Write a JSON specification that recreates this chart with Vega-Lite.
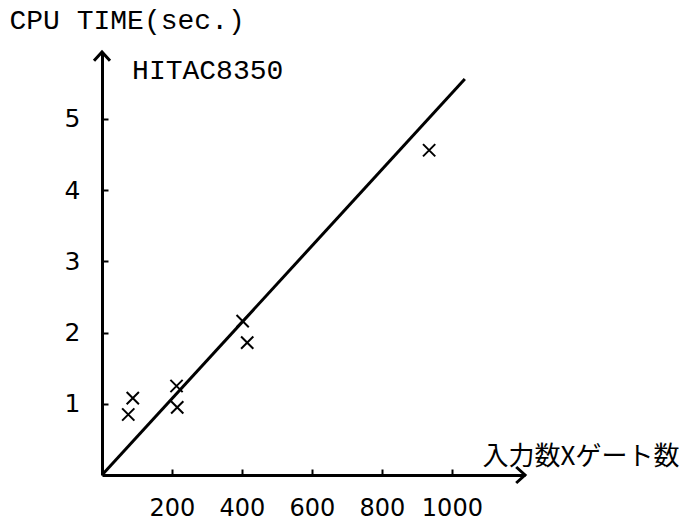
{
  "$schema": "https://vega.github.io/schema/vega-lite/v6.json",
  "width": 423,
  "height": 423,
  "autosize": "none",
  "padding": {"left": 102, "top": 52, "right": 158, "bottom": 48},
  "background": "white",
  "config": {"view": {"stroke": null}},
  "datasets": {
    "measurements": [
      {"x": 75, "y": 0.85},
      {"x": 88, "y": 1.08},
      {"x": 213, "y": 1.25},
      {"x": 215, "y": 0.95},
      {"x": 402, "y": 2.16},
      {"x": 415, "y": 1.86},
      {"x": 935, "y": 4.56}
    ],
    "fit": [
      {"x": 0, "y": 0},
      {"x": 1037, "y": 5.56}
    ],
    "arrows": [
      {"x": 0, "y": 5.94, "dir": "up"},
      {"x": 1209, "y": 0, "dir": "right"}
    ],
    "label": [
      {"x": 86, "y": 5.56, "text": "HITAC8350"}
    ]
  },
  "encoding": {
    "x": {
      "field": "x",
      "type": "quantitative",
      "scale": {"domain": [0, 1209], "nice": false, "zero": false},
      "axis": {
        "values": [200, 400, 600, 800, 1000],
        "format": "d",
        "grid": false,
        "domainColor": "black",
        "domainWidth": 3,
        "tickColor": "black",
        "tickWidth": 2,
        "tickSize": -6,
        "labelFont": "DejaVu Sans",
        "labelFontSize": 24,
        "labelColor": "black",
        "labelPadding": 27,
        "labelDx": -6,
        "labelOverlap": false,
        "labelFlush": false,
        "title": "入力数Xゲート数",
        "titleFont": "Noto Sans CJK JP",
        "titleFontSize": 26,
        "titleFontWeight": "normal",
        "titleColor": "black",
        "titleX": 380,
        "titleY": -11,
        "titleAlign": "left",
        "titleBaseline": "alphabetic"
      }
    },
    "y": {
      "field": "y",
      "type": "quantitative",
      "scale": {"domain": [0, 5.94], "nice": false, "zero": false},
      "axis": {
        "values": [1, 2, 3, 4, 5],
        "grid": false,
        "domainColor": "black",
        "domainWidth": 3,
        "tickColor": "black",
        "tickWidth": 2,
        "tickSize": -6,
        "labelFont": "DejaVu Sans",
        "labelFontSize": 25,
        "labelColor": "black",
        "labelPadding": 28,
        "labelBaseline": "middle",
        "labelDy": 4,
        "labelOverlap": false,
        "title": "CPU TIME(sec.)",
        "titleFont": "Liberation Mono",
        "titleFontSize": 28,
        "titleFontWeight": "normal",
        "titleColor": "black",
        "titleAngle": 0,
        "titleX": -93,
        "titleY": -24,
        "titleAlign": "left",
        "titleBaseline": "alphabetic"
      }
    }
  },
  "layer": [
    {
      "data": {"name": "fit"},
      "mark": {"type": "line", "color": "black", "strokeWidth": 3}
    },
    {
      "data": {"name": "measurements"},
      "mark": {
        "type": "point",
        "shape": "M-1,-1L1,1M-1,1L1,-1",
        "size": 150,
        "filled": false,
        "color": "black",
        "strokeWidth": 2,
        "opacity": 1
      }
    },
    {
      "data": {"name": "arrows"},
      "mark": {"type": "point", "filled": false, "color": "black", "strokeWidth": 3, "size": 256, "opacity": 1},
      "encoding": {
        "shape": {
          "field": "dir",
          "type": "nominal",
          "scale": {"domain": ["up", "right"], "range": ["M-1,1.1L0,0L1,1.1", "M-1.1,-1L0,0L-1.1,1"]},
          "legend": null
        }
      }
    },
    {
      "data": {"name": "label"},
      "mark": {"type": "text", "font": "Liberation Mono", "fontSize": 28, "align": "left", "baseline": "alphabetic", "color": "black"},
      "encoding": {"text": {"field": "text", "type": "nominal"}}
    }
  ]
}
